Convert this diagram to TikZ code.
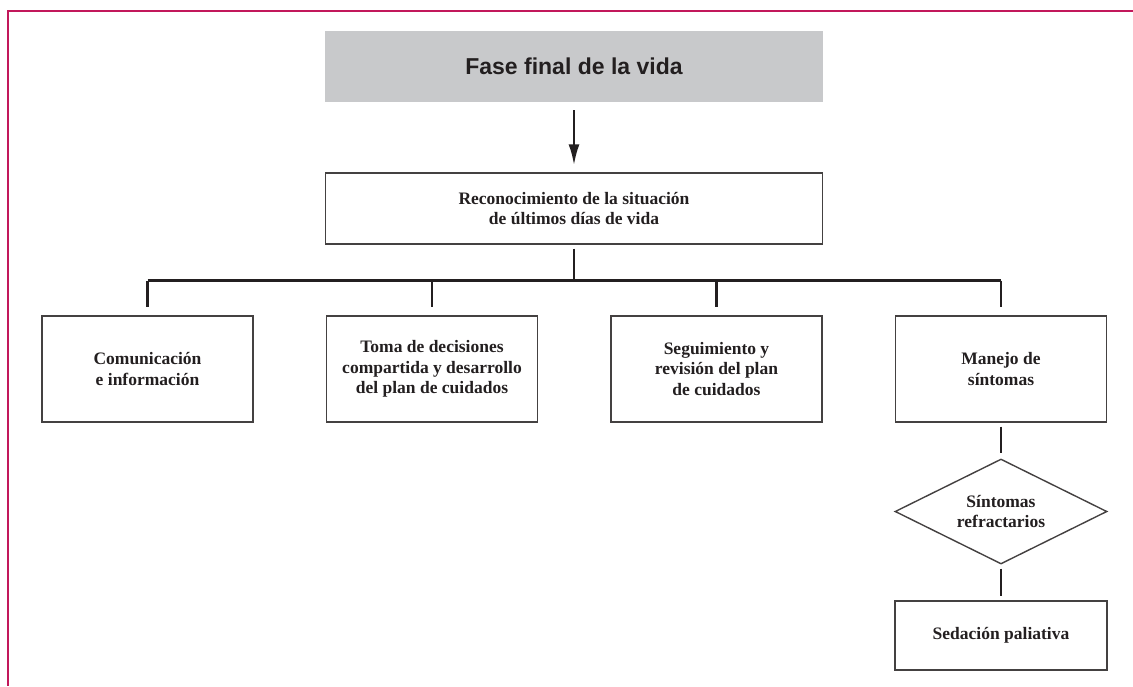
\documentclass[tikz,border=0pt]{standalone}
\usepackage{fontspec}
\setmainfont{Liberation Serif}
\newfontfamily\helv{Liberation Sans}
\usepackage{tikz}
\usetikzlibrary{positioning, shapes.geometric, arrows.meta}

\definecolor{framecol}{RGB}{194,24,91}
\definecolor{fasegray}{RGB}{200,201,203}
\definecolor{ink}{RGB}{35,31,32}

\begin{document}
\begin{tikzpicture}
	[x=1pt, y=-1pt, on grid, node distance=284.5pt,
	 box/.style={draw=ink!85, line width=1.4pt, rectangle, inner sep=0pt, align=center,
	   text=ink, font=\bfseries\fontsize{17.5}{20.5}\selectfont},
	 gbox/.style={fill=fasegray, inner sep=0pt, text=ink,
	   minimum width=498pt, minimum height=71pt, font=\helv\bfseries\fontsize{23}{27}\selectfont},
	 wide/.style={box, minimum width=497pt, minimum height=71pt},
	 cbox/.style={box, minimum width=211pt, minimum height=106pt},
	 dec/.style={box, diamond, aspect=2, minimum width=212pt, minimum height=105pt},
	 conn/.style={draw=ink, line width=2.5pt}]
   \useasboundingbox (0,0) rectangle (1133,686);
   \draw[framecol, line width=2pt] (1133,11) -- (8,11) -- (8,686);

   \node[gbox] (fase) at (574,66.5) {Fase final de la vida};
   \node[wide, below=142pt of fase] (recon)
     {Reconocimiento de la situación\\de últimos días de vida};
   \node[cbox, below left=160.5pt and 142pt of recon] (toma)
     {Toma de decisiones\\compartida y desarrollo\\del plan de cuidados};
   \node[cbox, left=of toma] (com) {Comunicación\\e información};
   \node[cbox, right=of toma] (seg) {Seguimiento y\\revisión del plan\\de cuidados};
   \node[cbox, right=of seg] (man) {Manejo de\\síntomas};
   \node[dec, below=142.5pt of man] (sint) {Síntomas\\refractarios};
   \node[box, minimum width=212pt, minimum height=69pt, below=124pt of sint] (sed)
     {Sedación paliativa};

   \coordinate[below=36pt of recon.south] (bus);

   \draw[conn, -{Latex[length=21pt, width=11pt]}, shorten <=8pt, shorten >=7pt]
     (fase) -- (recon);
   \draw[conn, shorten <=4pt] (recon.south) -- (bus);
   \draw[conn] (bus -| com) -- (bus -| man);
   \foreach \n in {com, toma, seg, man}
     \draw[conn, shorten >=8pt] (bus -| \n) -- (\n.north);
   \draw[conn, shorten <=4pt, shorten >=5pt] (man) -- (sint);
   \draw[conn, shorten <=4pt, shorten >=4pt] (sint) -- (sed);
\end{tikzpicture}
\end{document}
